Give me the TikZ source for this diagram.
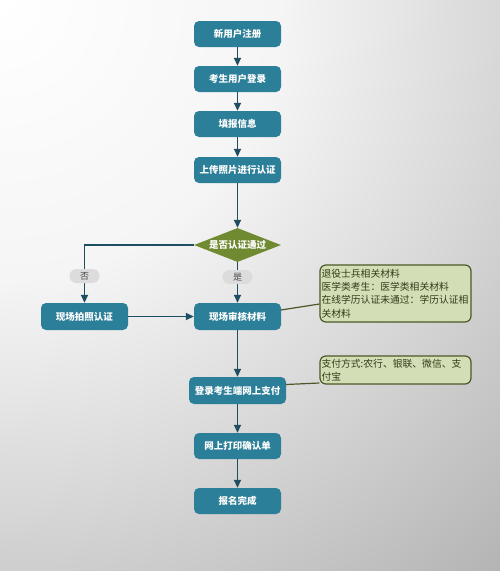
\documentclass[tikz,border=0pt]{standalone}
\usepackage{fontspec}
\setmainfont{Noto Sans CJK SC}
\usetikzlibrary{shapes.geometric,arrows.meta}
\definecolor{boxc}{RGB}{44,127,152}
\definecolor{diac}{RGB}{112,138,50}
\definecolor{arrc}{RGB}{30,78,96}
\definecolor{notef}{RGB}{211,221,182}
\definecolor{noted}{RGB}{76,88,40}
\definecolor{notet}{RGB}{50,60,25}
\definecolor{pillc}{RGB}{220,220,220}
\definecolor{bgA}{RGB}{255,255,255}
\definecolor{bgB}{RGB}{245,245,245}
\definecolor{bgC}{RGB}{216,216,216}
\definecolor{bgD}{RGB}{180,180,180}
\definecolor{bgE}{RGB}{174,174,174}
\pgfdeclareradialshading{bgshade}{\pgfpoint{0bp}{0bp}}{color(0bp)=(bgA); color(8.75bp)=(bgB); color(15.6bp)=(bgC); color(23.7bp)=(bgD); color(25bp)=(bgE); color(50bp)=(bgE)}
\tikzset{
  box/.style={rectangle, rounded corners=5pt, fill=boxc, text=white, font=\fontsize{9.5}{11}\selectfont\bfseries, minimum width=87pt, minimum height=26pt, inner sep=1pt},
  dia/.style={diamond, aspect=2.56, fill=diac, text=white, font=\fontsize{9.5}{11}\selectfont\bfseries, minimum width=87pt, minimum height=34pt, inner sep=0pt},
  note/.style={rectangle, rounded corners=6pt, fill=notef, draw=noted, line width=1.2pt, text=notet, font=\fontsize{9.8}{13.3}\selectfont, align=left, text width=148pt, inner sep=1.5pt},
  pill/.style={rectangle, rounded corners=7pt, fill=pillc, text=black!70, font=\fontsize{9}{10}\selectfont, minimum width=30pt, minimum height=14pt, inner sep=1pt},
  arr/.style={draw=arrc, line width=1.8pt, -{Triangle[length=8pt,width=7pt]}},
  link/.style={draw=noted, line width=1.2pt}
}
\begin{document}
\begin{tikzpicture}[x=1pt,y=-1pt]
\useasboundingbox (0,0) rectangle (500,571);
\begin{scope}
\clip (0,0) rectangle (500,571);
\shade[shading=bgshade] (0,0) circle (800);
\end{scope}
\node[box] (n1) at (237.5,34) {新用户注册};
\node[box] (n2) at (237.5,79) {考生用户登录};
\node[box] (n3) at (237.5,124) {填报信息};
\node[box] (n4) at (237.5,170) {上传照片进行认证};
\node[dia] (d) at (237.5,245) {是否认证通过};
\node[box, minimum height=27pt] (p) at (84.5,316.5) {现场拍照认证};
\node[box, minimum height=27pt] (r) at (237.5,316.5) {现场审核材料};
\node[box, minimum width=97pt, minimum height=27pt] (pay) at (237.5,390.5) {登录考生端网上支付};
\node[box] (pr) at (237.5,446) {网上打印确认单};
\node[box] (fin) at (237.5,501) {报名完成};
\node[note, minimum height=57pt] (note1) at (395.5,293.5) {退役士兵相关材料\\医学类考生：医学类相关材料\\在线学历认证未通过：学历认证相\\关材料};
\node[note, minimum height=28pt] (note2) at (395.5,370) {支付方式:农行、银联、微信、支\\付宝};
\draw[arr] (n1) -- (n2);
\draw[arr] (n2) -- (n3);
\draw[arr] (n3) -- (n4);
\draw[arr] (n4) -- (d);
\draw[arr] (d.west) -| (p.north);
\draw[arr] (d.south) -- (r.north);
\draw[arr] (p) -- (r);
\draw[arr] (r) -- (pay);
\draw[arr] (pay) -- (pr);
\draw[arr] (pr) -- (fin);
\node[pill] (no) at (84.5,276) {否};
\node[pill] (yes) at (237.5,277) {是};
\coordinate (c1) at (281,310);
\coordinate (c2) at (286,384.5);
\draw[link] (c1) -- (note1.west |- 0,304);
\draw[link] (c2) -- (note2.west |- 0,383);
\end{tikzpicture}
\end{document}
